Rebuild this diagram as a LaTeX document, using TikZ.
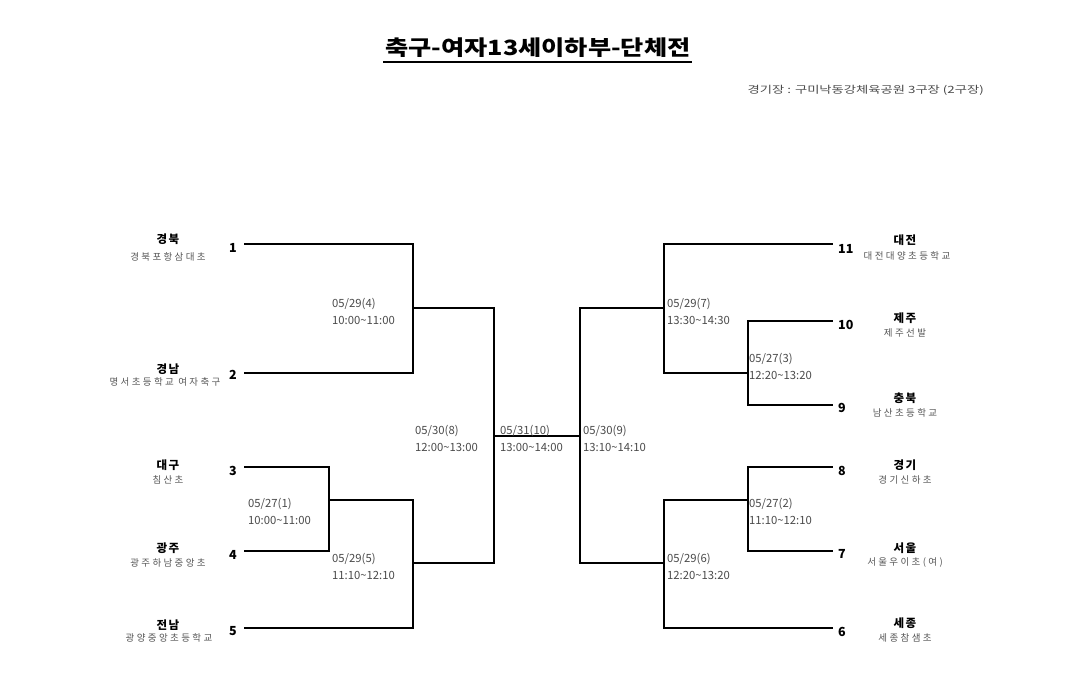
\documentclass[tikz,border=0pt]{standalone}
\usepackage{fontspec}
\setmainfont{Noto Sans CJK KR}
\newfontfamily\krsub[LetterSpace=25]{Noto Sans CJK KR}
\newfontfamily\krname[LetterSpace=12]{Noto Sans CJK KR}
\newfontfamily\krplain{Noto Sans CJK KR}
\definecolor{subgray}{HTML}{555555}
\definecolor{matchgray}{HTML}{4A4A4A}
\begin{document}
\begin{tikzpicture}[x=1pt,y=-1pt,
  teamname/.style={inner sep=0pt,font=\krname\fontsize{11.5}{13}\selectfont\bfseries},
  teamsub/.style={inner sep=0pt,text=subgray,font=\krsub\fontsize{9.5}{11}\selectfont},
  numl/.style={inner sep=0pt,anchor=east,font=\krplain\fontsize{12.5}{14}\selectfont\bfseries},
  numr/.style={inner sep=0pt,anchor=west,font=\krplain\fontsize{12.5}{14}\selectfont\bfseries},
  matchlbl/.style={inner sep=0pt,anchor=west,align=left,text=matchgray,font=\krplain\fontsize{11.3}{17}\selectfont},
  bracket/.style={line width=1.8pt,line cap=rect}
]
\useasboundingbox (0,0) rectangle (1080,677);

% title and venue
\node[inner sep=0pt,font=\krplain\fontsize{21}{24}\selectfont\bfseries] (title) at (538,48) {\scalebox{1.2}[1]{축구-여자13세이하부-단체전}};
\draw[line width=1.2pt] (383,62) coordinate (ul1) -- (692,62) coordinate (ul2);
\node[inner sep=0pt,anchor=east,text=matchgray,font=\krplain\fontsize{10}{12}\selectfont] (venue) at (984,90) {\scalebox{1.33}[1]{경기장 : 구미낙동강체육공원 3구장 (2구장)}};

% left teams
\node[teamname] (tn1) at (168,239) {경북};
\node[teamsub] (ts1) at (168,257) {경북포항삼대초};
\node[teamname] (tn2) at (168,369) {경남};
\node[teamsub] (ts2) at (165,382) {명서초등학교 여자축구};
\node[teamname] (tn3) at (168,465) {대구};
\node[teamsub] (ts3) at (168,480) {침산초};
\node[teamname] (tn4) at (168,548) {광주};
\node[teamsub] (ts4) at (168,563) {광주하남중앙초};
\node[teamname] (tn5) at (168,625) {전남};
\node[teamsub] (ts5) at (169,638) {광양중앙초등학교};

% right teams
\node[teamname] (tn11) at (905,240) {대전};
\node[teamsub] (ts11) at (907,256) {대전대양초등학교};
\node[teamname] (tn10) at (905,318) {제주};
\node[teamsub] (ts10) at (905,333) {제주선발};
\node[teamname] (tn9) at (905,398) {충북};
\node[teamsub] (ts9) at (905,413) {남산초등학교};
\node[teamname] (tn8) at (905,465) {경기};
\node[teamsub] (ts8) at (905,480) {경기신하초};
\node[teamname] (tn7) at (905,548) {서울};
\node[teamsub] (ts7) at (905,562) {서울우이초(여)};
\node[teamname] (tn6) at (905,623) {세종};
\node[teamsub] (ts6) at (905,638) {세종참샘초};

% numbers
\node[numl] (n1) at (237,248) {1};
\node[numl] (n2) at (237,375) {2};
\node[numl] (n3) at (237,471) {3};
\node[numl] (n4) at (237,555) {4};
\node[numl] (n5) at (237,631) {5};
\node[numr] (n11) at (838,249) {11};
\node[numr] (n10) at (838,325) {10};
\node[numr] (n9) at (838,408) {9};
\node[numr] (n8) at (838,471) {8};
\node[numr] (n7) at (838,554) {7};
\node[numr] (n6) at (838,632) {6};

% line ends and junctions
\coordinate (a1) at (245,244);
\coordinate (a2) at (245,373);
\coordinate (a3) at (245,467);
\coordinate (a4) at (245,551);
\coordinate (a5) at (245,628);
\coordinate (a11) at (832,244);
\coordinate (a10) at (832,321);
\coordinate (a9) at (832,405);
\coordinate (a8) at (832,467);
\coordinate (a7) at (832,551);
\coordinate (a6) at (832,628);
\coordinate (j4) at (413,308);
\coordinate (j1) at (329,500);
\coordinate (j5) at (413,563);
\coordinate (j8) at (494,436);
\coordinate (j9) at (580,436);
\coordinate (j7) at (664,308);
\coordinate (j3) at (748,373);
\coordinate (j2) at (748,500);
\coordinate (j6) at (664,563);

% bracket lines
\draw[bracket] (a1) -| (j4) |- (a2);
\draw[bracket] (a3) -| (j1) |- (a4);
\draw[bracket] (j1) -| (j5) |- (a5);
\draw[bracket] (j4) -| (j8) |- (j5);
\draw[bracket] (j8) -- (j9);
\draw[bracket] (j7) -| (j9) |- (j6);
\draw[bracket] (a11) -| (j7) |- (j3);
\draw[bracket] (a10) -| (j3) |- (a9);
\draw[bracket] (a8) -| (j2) |- (a7);
\draw[bracket] (j2) -| (j6) |- (a6);

% match labels
\node[matchlbl] (m4) at (332,311.5) {05/29(4)\\10:00\textasciitilde 11:00};
\node[matchlbl] (m1) at (248,511.5) {05/27(1)\\10:00\textasciitilde 11:00};
\node[matchlbl] (m5) at (332,566.5) {05/29(5)\\11:10\textasciitilde 12:10};
\node[matchlbl] (m8) at (415,438.5) {05/30(8)\\12:00\textasciitilde 13:00};
\node[matchlbl] (m10) at (500,438.5) {05/31(10)\\13:00\textasciitilde 14:00};
\node[matchlbl] (m9) at (583,438.5) {05/30(9)\\13:10\textasciitilde 14:10};
\node[matchlbl] (m7) at (667,311.5) {05/29(7)\\13:30\textasciitilde 14:30};
\node[matchlbl] (m3) at (749,366.5) {05/27(3)\\12:20\textasciitilde 13:20};
\node[matchlbl] (m2) at (749,511.5) {05/27(2)\\11:10\textasciitilde 12:10};
\node[matchlbl] (m6) at (667,566.5) {05/29(6)\\12:20\textasciitilde 13:20};
\end{tikzpicture}
\end{document}
